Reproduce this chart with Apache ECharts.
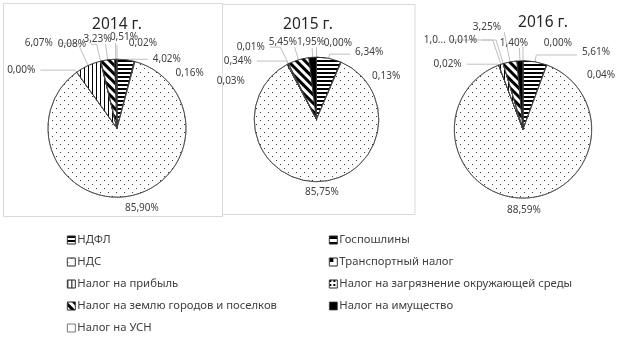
<!DOCTYPE html>
<html>
<head>
<meta charset="utf-8">
<script src="https://cdn.jsdelivr.net/npm/echarts@6/dist/echarts.min.js"></script>
<style>
  html, body { margin: 0; padding: 0; background: #fff; }
  #chart { width: 644px; height: 346px; }
</style>
</head>
<body>
<div id="chart"></div>
<script>
// Tax revenue structure, shares in percent
const taxNames = [
  'НДФЛ',
  'Госпошлины',
  'НДС',
  'Транспортный налог',
  'Налог на прибыль',
  'Налог на загрязнение окружающей среды',
  'Налог на землю городов и поселков',
  'Налог на имущество',
  'Налог на УСН'
];
const years = ['2014 г.', '2015 г.', '2016 г.'];
const share2014 = [4.02, 0.16, 85.90, 0.00, 6.07, 0.08, 3.23, 0.51, 0.02];
const share2015 = [6.34, 0.13, 85.75, 0.03, 0.34, 0.01, 5.45, 1.95, 0.00];
const share2016 = [5.61, 0.04, 88.59, 0.02, 1.08, 0.01, 3.25, 1.40, 0.00];

const FONT = '"Noto Sans", "Open Sans", sans-serif';

// Black-and-white hatch fills, one per tax
const fills = [
  { color: '#fff', decal: { symbol: 'rect', color: '#000', dashArrayX: [1, 0], dashArrayY: [2, 2], symbolSize: 1, rotation: 0 } },
  { color: '#fff', decal: { symbol: 'rect', color: '#000', dashArrayX: [1, 0], dashArrayY: [3, 3], symbolSize: 1, rotation: 0 } },
  { color: '#fff', decal: { symbol: 'rect', color: '#3a3a3a', dashArrayX: [[1, 7], [0, 4, 1, 3]], dashArrayY: [1, 3], symbolSize: 1, rotation: 0 } },
  { color: '#fff', decal: { symbol: 'rect', color: '#000', dashArrayX: [4, 4], dashArrayY: [4, 4], symbolSize: 1, rotation: 0 } },
  { color: '#fff', decal: { symbol: 'rect', color: '#000', dashArrayX: [1, 3], dashArrayY: [1, 0], symbolSize: 1, rotation: 0 } },
  { color: '#fff', decal: { symbol: 'rect', color: '#000', dashArrayX: [2, 2], dashArrayY: [2, 2], symbolSize: 1, rotation: 0 } },
  { color: '#fff', decal: { symbol: 'rect', color: '#000', dashArrayX: [1, 0], dashArrayY: [3, 3], symbolSize: 1, rotation: Math.PI / 4 } },
  { color: '#000', decal: null },
  { color: '#fff', decal: null }
];

// Per-slice label leader settings:
// [length, length2, distanceToLabelLine, vertical text shift, showLine]
const leader2014 = [
  [0.5, 22, 5, 0, true],
  [0, 0, 41, 11.5, false],
  [12.3, 0, -6.6, 0, false],
  [2.5, 35, 5, 0, true],
  [24.6, 20, 5, 0, true],
  [17.4, 5.6, 5, 0, true],
  [15.7, 0, -6, -5, true],
  [16, 0, -22.5, -6, true],
  [14, 0, -40, -2, true]
];
const leader2015 = [
  [4.3, 20.4, 5, -2, true],
  [0, 0, 31.2, 14, false],
  [11, 0, -14.5, 0, false],
  [0, 0, 42.4, 16.8, false],
  [3.3, 29.6, 5, 0, true],
  [18.6, 10.4, 5, 0, true],
  [13.2, 0, -2.3, -5, true],
  [9.1, 0, -12.9, -6, true],
  [10, 0, -35.5, -4, true]
];
const leader2016 = [
  [6.9, 40.7, 5, -3, true],
  [0, 0, 40.2, 10, false],
  [11.9, 0, -16.3, 0, false],
  [1, 31.7, 5, 0, true],
  [25.7, 41.8, 5, 0, true],
  [24.6, 14.1, 5, 0, true],
  [30.4, 0, 3.3, -5, true],
  [12.8, 0, -8.6, -5, true],
  [14, 0, -49, -3.7, true]
];

function pct(v) {
  return v.toFixed(2).replace('.', ',') + '%';
}

function buildData(values, leaders, truncateIdx) {
  return values.map(function (v, i) {
    const ld = leaders[i];
    const shift = ld[3];
    const label = {
      distanceToLabelLine: ld[2],
      // an empty line above or below moves the value text down or up
      formatter: function (p) {
        const t = pct(p.value);
        if (shift > 0) return '\n' + t;
        if (shift < 0) return t + '\n';
        return t;
      }
    };
    if (shift !== 0) label.lineHeight = Math.abs(shift) * 2;
    if (i === truncateIdx) {
      label.width = 25.5;
      label.overflow = 'truncate';
      label.ellipsis = '...';
    }
    return {
      name: taxNames[i],
      value: v,
      itemStyle: { color: fills[i].color, decal: fills[i].decal },
      label: label,
      labelLine: { show: ld[4], length: ld[0], length2: ld[1] }
    };
  });
}

const pieLayout = [
  { center: [117, 128.2], radius: 69 },
  { center: [316.5, 119.4], radius: 62.3 },
  { center: [523, 129.4], radius: 68.7 }
];
const titlePos = [
  { left: 112, top: 12 },
  { left: 303, top: 12 },
  { left: 538, top: 10 }
];
const yearData = [
  buildData(share2014, leader2014, -1),
  buildData(share2015, leader2015, -1),
  buildData(share2016, leader2016, 4)
];

const series = yearData.map(function (data, k) {
  return {
    type: 'pie',
    name: years[k],
    center: pieLayout[k].center,
    radius: pieLayout[k].radius,
    startAngle: 90,
    clockwise: true,
    avoidLabelOverlap: false,
    labelLayout: { hideOverlap: false },
    itemStyle: { borderColor: '#404040', borderWidth: 0.7 },
    label: {
      show: true,
      position: 'outside',
      color: '#404040',
      fontFamily: FONT,
      fontSize: 10
    },
    labelLine: {
      show: true,
      lineStyle: { color: '#bfbfbf', width: 1 }
    },
    emphasis: { disabled: true },
    data: data
  };
});

const legendText = { fontFamily: FONT, fontSize: 11.3, color: '#404040', lineHeight: 14, padding: [0, 0, 0, -3] };

const chart = echarts.init(document.getElementById('chart'), null, { renderer: 'canvas' });
chart.setOption({
  animation: false,
  backgroundColor: '#fff',
  title: years.map(function (y, k) {
    return {
      text: y,
      left: titlePos[k].left,
      top: titlePos[k].top,
      textAlign: 'center',
      textStyle: { fontFamily: FONT, fontSize: 15.5, fontWeight: 'normal', color: '#262626' }
    };
  }),
  graphic: [
    { type: 'rect', shape: { x: 3.5, y: 3.5, width: 219, height: 213 }, style: { fill: 'none', stroke: '#d9d9d9', lineWidth: 1 }, silent: true },
    { type: 'rect', shape: { x: 222.5, y: 4.5, width: 192.5, height: 210 }, style: { fill: 'none', stroke: '#d9d9d9', lineWidth: 1 }, silent: true }
  ],
  legend: [
    {
      orient: 'vertical',
      left: 62,
      top: 228,
      itemWidth: 8,
      itemHeight: 8,
      itemGap: 8,
      icon: 'rect',
      data: [taxNames[0], taxNames[2], taxNames[4], taxNames[6], taxNames[8]],
      textStyle: legendText,
      itemStyle: { borderColor: '#404040', borderWidth: 0.7 },
      selectedMode: false
    },
    {
      orient: 'vertical',
      left: 324,
      top: 228,
      itemWidth: 8,
      itemHeight: 8,
      itemGap: 8,
      icon: 'rect',
      data: [taxNames[1], taxNames[3], taxNames[5], taxNames[7]],
      textStyle: legendText,
      itemStyle: { borderColor: '#404040', borderWidth: 0.7 },
      selectedMode: false
    }
  ],
  series: series
});
</script>
</body>
</html>
